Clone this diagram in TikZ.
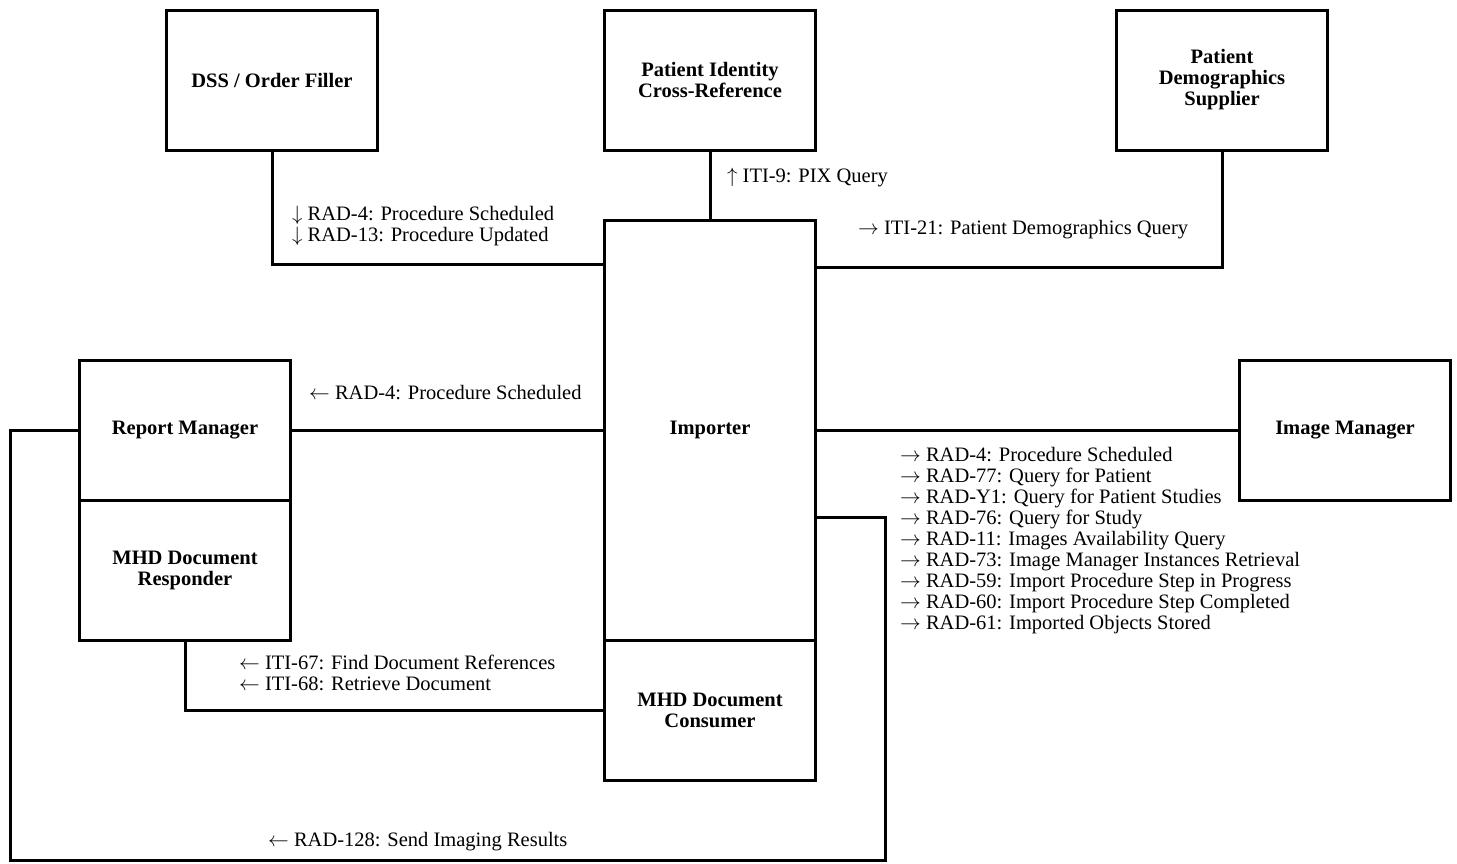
\documentclass[tikz,border=0pt]{standalone}
\usepackage{fontspec}
\setmainfont{Liberation Serif}
\usetikzlibrary{positioning}
\begin{document}
\begin{tikzpicture}[x=1pt, y=-1pt,
  actorbox/.style={rectangle, draw, line width=3pt, minimum width=211pt, minimum height=140pt,
                   inner sep=0pt, outer sep=0pt, align=center, font=\bfseries\fontsize{20.5}{21}\selectfont},
  link/.style={line width=3pt},
  msgtext/.style={anchor=west, align=left, inner sep=0pt, font=\fontsize{20.5}{21}\selectfont}
]
  \useasboundingbox (0,0) rectangle (1457,863);

  \node[actorbox] (dss) at (272,80) {DSS / Order Filler};
  \node[actorbox] (pix) at (710,80) {Patient Identity\\Cross-Reference};
  \node[actorbox] (pds) at (1222,80) {Patient\\Demographics\\Supplier};
  \node[actorbox, minimum height=420pt] (importer) at (710,430) {Importer};
  \node[actorbox, below=0pt of importer] (consumer) {MHD Document\\Consumer};
  \node[actorbox] (reportmgr) at (185,430) {Report Manager};
  \node[actorbox, below=0pt of reportmgr] (responder) {MHD Document\\Responder};
  \node[actorbox] (imagemgr) at (1345,430) {Image Manager};

  \coordinate (loopsw) at (10,860);
  \coordinate (loopse) at (885,860);

  \draw[link] (dss.south) |- ([yshift=-44pt]importer.north west);
  \draw[link] (pix.south) -- (importer.north);
  \draw[link] (pds.south) |- ([yshift=-47pt]importer.north east);
  \draw[link] (reportmgr.east) -- (importer.west);
  \draw[link] (importer.east) -- (imagemgr.west);
  \draw[link] (responder.south) |- (consumer.west);
  \draw[link] (reportmgr.west) -| (loopsw) -- (loopse) |- ([yshift=-87pt]importer.east);

  \node[msgtext] (dsstxt) at (292,226) {$\downarrow$ RAD-4: Procedure Scheduled\\$\downarrow$ RAD-13: Procedure Updated};
  \node[msgtext] (pixtxt) at (727,178) {$\uparrow$ ITI-9: PIX Query};
  \node[msgtext] (pdstxt) at (858,230) {$\rightarrow$ ITI-21: Patient Demographics Query};
  \node[msgtext] (rmtxt) at (309,393) {$\leftarrow$ RAD-4: Procedure Scheduled};
  \node[msgtext] (imtxt) at (900,541) {$\rightarrow$ RAD-4: Procedure Scheduled\\
    $\rightarrow$ RAD-77: Query for Patient\\
    $\rightarrow$ RAD-Y1: Query for Patient Studies\\
    $\rightarrow$ RAD-76: Query for Study\\
    $\rightarrow$ RAD-11: Images Availability Query\\
    $\rightarrow$ RAD-73: Image Manager Instances Retrieval\\
    $\rightarrow$ RAD-59: Import Procedure Step in Progress\\
    $\rightarrow$ RAD-60: Import Procedure Step Completed\\
    $\rightarrow$ RAD-61: Imported Objects Stored};
  \node[msgtext] (mhdtxt) at (239,673) {$\leftarrow$ ITI-67: Find Document References\\$\leftarrow$ ITI-68: Retrieve Document};
  \node[msgtext] (restxt) at (268,842) {$\leftarrow$ RAD-128: Send Imaging Results};
\end{tikzpicture}
\end{document}
